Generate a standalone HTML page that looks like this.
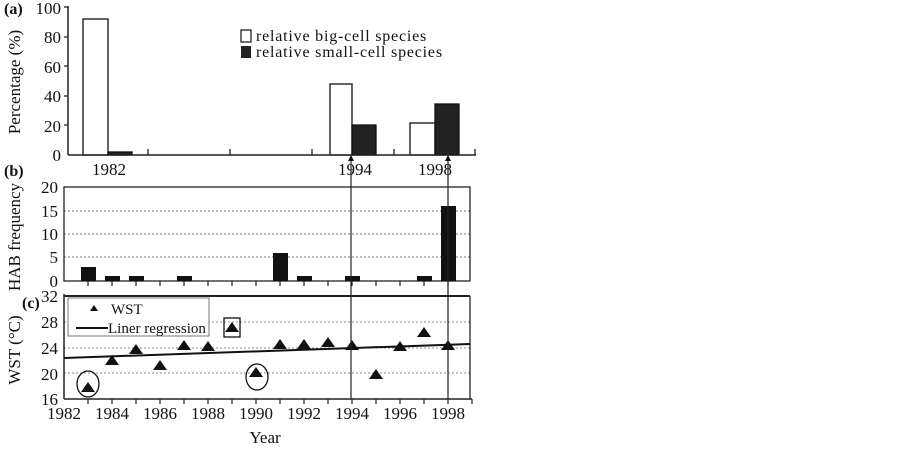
<!DOCTYPE html>
<html><head><meta charset="utf-8"><style>
body{margin:0;background:#fff}
text{font-family:"Liberation Serif",serif;fill:#111}
</style></head><body>
<svg width="903" height="448" viewBox="0 0 903 448" xmlns="http://www.w3.org/2000/svg">
<!-- Panel a -->
<text x="4" y="14" font-size="16" font-weight="bold">(a)</text>
<g font-size="17" text-anchor="end">
<text x="61" y="14">100</text><text x="61" y="43">80</text><text x="61" y="73">60</text>
<text x="61" y="102">40</text><text x="61" y="132">20</text><text x="61" y="161">0</text>
</g>
<text transform="translate(20,82) rotate(-90)" font-size="17" text-anchor="middle">Percentage (%)</text>
<line x1="68" y1="6" x2="68" y2="155" stroke="#222" stroke-width="1.5"/>
<g stroke="#222" stroke-width="1.3"><line x1="64" y1="7" x2="68" y2="7"/><line x1="64" y1="37" x2="68" y2="37"/><line x1="64" y1="66" x2="68" y2="66"/><line x1="64" y1="96" x2="68" y2="96"/><line x1="64" y1="125" x2="68" y2="125"/>
<line x1="148" y1="149" x2="148" y2="155"/><line x1="230" y1="149" x2="230" y2="155"/><line x1="312" y1="149" x2="312" y2="155"/><line x1="394" y1="149" x2="394" y2="155"/><line x1="475" y1="149" x2="475" y2="155"/></g>
<g stroke="#111" stroke-width="1.3">
<rect x="83" y="19" width="25" height="136" fill="#fff"/>
<rect x="108" y="152" width="24" height="3" fill="#222"/>
<rect x="330" y="84" width="22" height="71" fill="#fff"/>
<rect x="352" y="125" width="24" height="30" fill="#222"/>
<rect x="410" y="123" width="25" height="32" fill="#fff"/>
<rect x="435" y="104" width="24" height="51" fill="#222"/>
</g>
<line x1="68" y1="155" x2="476" y2="155" stroke="#222" stroke-width="1.5"/>
<g font-size="17" text-anchor="middle"><text x="109" y="175">1982</text><text x="355" y="175">1994</text><text x="435" y="175">1998</text></g>
<rect x="241" y="30" width="10" height="12" fill="#fff" stroke="#111" stroke-width="1.2"/>
<text x="256" y="41" font-size="16" letter-spacing="0.8">relative big-cell species</text>
<rect x="241" y="46" width="10" height="12" fill="#222"/>
<text x="256" y="57" font-size="16" letter-spacing="0.8">relative small-cell species</text>
<!-- Panel b -->
<text x="4" y="176" font-size="16" font-weight="bold">(b)</text>
<g font-size="17" text-anchor="end"><text x="58" y="193">20</text><text x="58" y="217">15</text><text x="58" y="240">10</text><text x="58" y="263">5</text><text x="58" y="287">0</text></g>
<text transform="translate(20,237) rotate(-90)" font-size="17" text-anchor="middle">HAB frequency</text>
<g stroke="#777" stroke-dasharray="2,2" stroke-width="1"><line x1="64" y1="211" x2="470" y2="211"/><line x1="64" y1="234" x2="470" y2="234"/><line x1="64" y1="257" x2="470" y2="257"/></g>
<rect x="64" y="187" width="406" height="94" fill="none" stroke="#222" stroke-width="1.3"/>
<g fill="#111">
<rect x="81" y="267" width="15" height="14"/><rect x="105" y="276" width="15" height="5"/><rect x="129" y="276" width="15" height="5"/>
<rect x="177" y="276" width="15" height="5"/><rect x="273" y="253" width="15" height="28"/><rect x="297" y="276" width="15" height="5"/>
<rect x="345" y="276" width="15" height="5"/><rect x="417" y="276" width="15" height="5"/><rect x="441" y="206" width="15" height="75"/>
</g>
<!-- Panel c -->
<text x="22" y="308" font-size="16" font-weight="bold">(c)</text>
<g font-size="17" text-anchor="end"><text x="58" y="302">32</text><text x="58" y="328">28</text><text x="58" y="354">24</text><text x="58" y="380">20</text><text x="58" y="405">16</text></g>
<text transform="translate(20,350) rotate(-90)" font-size="17" text-anchor="middle">WST (°C)</text>
<g stroke="#888" stroke-dasharray="2,2" stroke-width="1"><line x1="64" y1="322" x2="470" y2="322"/><line x1="64" y1="348" x2="470" y2="348"/><line x1="64" y1="373" x2="470" y2="373"/></g>
<line x1="64" y1="296" x2="470" y2="296" stroke="#222" stroke-width="2"/>
<line x1="470" y1="296" x2="470" y2="399" stroke="#222" stroke-width="1.3"/>
<line x1="64" y1="294" x2="64" y2="399" stroke="#222" stroke-width="1.5"/>
<line x1="64" y1="399" x2="472" y2="399" stroke="#222" stroke-width="1.5"/>
<g stroke="#222" stroke-width="1.2">
<line x1="88" y1="399" x2="88" y2="404"/><line x1="112" y1="399" x2="112" y2="404"/><line x1="136" y1="399" x2="136" y2="404"/><line x1="160" y1="399" x2="160" y2="404"/><line x1="184" y1="399" x2="184" y2="404"/><line x1="208" y1="399" x2="208" y2="404"/><line x1="232" y1="399" x2="232" y2="404"/><line x1="256" y1="399" x2="256" y2="404"/><line x1="280" y1="399" x2="280" y2="404"/><line x1="304" y1="399" x2="304" y2="404"/><line x1="328" y1="399" x2="328" y2="404"/><line x1="352" y1="399" x2="352" y2="404"/><line x1="376" y1="399" x2="376" y2="404"/><line x1="400" y1="399" x2="400" y2="404"/><line x1="424" y1="399" x2="424" y2="404"/><line x1="448" y1="399" x2="448" y2="404"/><line x1="472" y1="399" x2="472" y2="404"/>
<line x1="88" y1="281" x2="88" y2="286"/><line x1="112" y1="281" x2="112" y2="286"/><line x1="136" y1="281" x2="136" y2="286"/><line x1="160" y1="281" x2="160" y2="286"/><line x1="184" y1="281" x2="184" y2="286"/><line x1="208" y1="281" x2="208" y2="286"/><line x1="232" y1="281" x2="232" y2="286"/><line x1="256" y1="281" x2="256" y2="286"/><line x1="280" y1="281" x2="280" y2="286"/><line x1="304" y1="281" x2="304" y2="286"/><line x1="328" y1="281" x2="328" y2="286"/><line x1="352" y1="281" x2="352" y2="286"/><line x1="376" y1="281" x2="376" y2="286"/><line x1="400" y1="281" x2="400" y2="286"/><line x1="424" y1="281" x2="424" y2="286"/><line x1="448" y1="281" x2="448" y2="286"/>
</g>
<g font-size="17" text-anchor="middle">
<text x="64" y="419">1982</text><text x="112" y="419">1984</text><text x="160" y="419">1986</text><text x="208" y="419">1988</text><text x="256" y="419">1990</text><text x="304" y="419">1992</text><text x="352" y="419">1994</text><text x="400" y="419">1996</text><text x="448" y="419">1998</text>
</g>
<text x="265" y="443" font-size="17" text-anchor="middle">Year</text>
<line x1="64" y1="358" x2="470" y2="344" stroke="#111" stroke-width="2"/>
<g fill="#111">
<path d="M88,382 l-7,10 h14z"/><path d="M112,355 l-7,10 h14z"/><path d="M136,344 l-7,10 h14z"/><path d="M160,360 l-7,10 h14z"/>
<path d="M184,340 l-7,10 h14z"/><path d="M208,341 l-7,10 h14z"/><path d="M232,322 l-7,10 h14z"/><path d="M256,367 l-7,10 h14z"/>
<path d="M280,339 l-7,10 h14z"/><path d="M304,339 l-7,10 h14z"/><path d="M328,337 l-7,10 h14z"/><path d="M352,340 l-7,10 h14z"/>
<path d="M376,369 l-7,10 h14z"/><path d="M400,341 l-7,10 h14z"/><path d="M424,327 l-7,10 h14z"/><path d="M448,340 l-7,10 h14z"/>
</g>
<ellipse cx="88" cy="384" rx="11" ry="13" fill="none" stroke="#111" stroke-width="1.3"/>
<ellipse cx="257" cy="377" rx="11" ry="13" fill="none" stroke="#111" stroke-width="1.3"/>
<rect x="224" y="318" width="16" height="19" fill="none" stroke="#111" stroke-width="1.3"/>
<rect x="68" y="298" width="141" height="38" fill="#fff" stroke="#777" stroke-width="1"/>
<path d="M94,305 l-4,6 h8z" fill="#111"/>
<text x="111" y="314" font-size="15">WST</text>
<line x1="76" y1="328" x2="108" y2="328" stroke="#111" stroke-width="2"/>
<text x="108" y="333" font-size="15">Liner regression</text>
<!-- vertical lines with arrows -->
<line x1="351" y1="160" x2="351" y2="399" stroke="#222" stroke-width="1.2"/>
<line x1="448" y1="160" x2="448" y2="399" stroke="#222" stroke-width="1.2"/>
<path d="M351,155 l-3,6 h6z" fill="#111"/><path d="M448,155 l-3,6 h6z" fill="#111"/>
</svg>
</body></html>
